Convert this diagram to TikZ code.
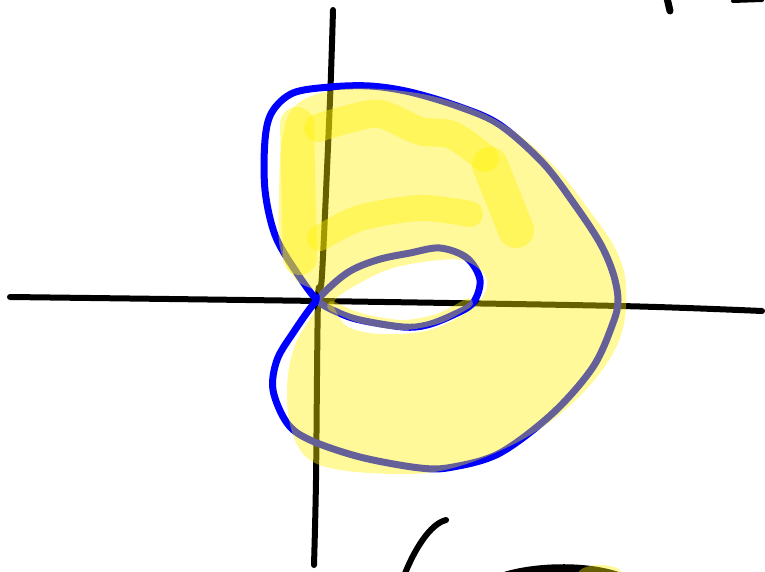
\documentclass[tikz,border=0pt]{standalone}
\begin{document}
\begin{tikzpicture}[x=1pt,y=-1pt,
  axis/.style={line width=6pt,line cap=round,line join=round,black},
  curve/.style={line width=7pt,blue,line join=round},
  hl/.style={yellow,opacity=0.4},
  scribble/.style={draw=yellow,draw opacity=0.4,line cap=round,line join=round}]
\useasboundingbox (0,0) rectangle (765,572);
\fill[white] (0,0) rectangle (765,572);
% axes
\draw[axis] plot[smooth] coordinates {(333,10) (330,100) (322,275) (318,300) (316,480) (314,565)};
\draw[axis] plot[smooth] coordinates {(10,297) (318,301) (620,306) (762,311)};
% limacon
\draw[curve] plot[smooth cycle,tension=0.55] coordinates {
(317,300) (337,312) (360,320) (403,327) (427,325) (453,315) (473,303) (480,280) (467,258) (440,248) (410,253) (377,260) (347,273)
(317,300) (293,333) (277,360) (273,390) (287,423) (310,440) (360,457) (420,468) (453,467) (500,453) (553,413) (593,367) (613,323) (618,300) (613,273) (600,243) (575,205) (543,163) (500,125) (460,107) (410,92) (370,86) (330,87) (293,93) (272,112) (265,140) (265,190) (275,235) (295,270)};
% yellow highlight base
\fill[hl,even odd rule]
 plot[smooth cycle,tension=0.6] coordinates {(320,298) (296,280) (280,248) (279,200) (282,140) (295,106) (330,91) (380,89) (440,98) (500,122) (552,164) (592,214) (616,250) (626,285) (622,332) (600,373) (560,414) (508,447) (440,471) (370,473) (315,463) (293,435) (287,390) (295,345)}
 plot[smooth cycle,tension=0.6] coordinates {(335,300) (360,283) (393,268) (440,260) (468,262) (487,280) (478,303) (450,322) (420,332) (380,334) (350,328) (338,315)};
\draw[scribble,line width=10pt] plot[smooth] coordinates {(332,306) (360,318) (403,325) (440,318) (468,303)};
% scribbles
\draw[scribble,line width=34pt] (297,124) -- (300,258);
\draw[scribble,line width=28pt] plot[smooth] coordinates {(318,128) (345,120) (380,114) (420,131) (452,135) (485,158)};
\draw[scribble,line width=36pt] (490,165) -- (516,230);
\draw[scribble,line width=26pt] plot[smooth] coordinates {(320,238) (360,218) (420,208) (470,214)};
% stray strokes
\draw[line width=7pt,line cap=round] (667,-2) -- (670,11);
\draw[line width=4pt,line cap=round] (733,1) -- (762,0);
\draw[line width=6pt,line cap=round] (446,520) .. controls (430,524) and (414,550) .. (404,576);
\fill[black] (498,574) .. controls (530,562) and (590,560) .. (624,574) -- cycle;
\fill[hl] (600,574) ellipse [x radius=22pt, y radius=9pt];
\end{tikzpicture}
\end{document}
